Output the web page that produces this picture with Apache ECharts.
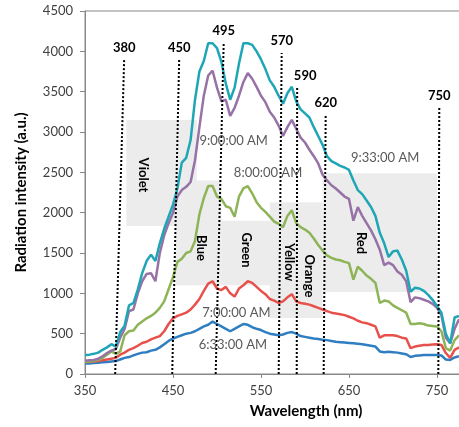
<!DOCTYPE html>
<html>
<head>
<meta charset="UTF-8">
<title>Radiation spectra</title>
<style>
  html, body { margin: 0; padding: 0; background: #fff; }
  #chart { width: 459px; height: 427px; }
</style>
</head>
<body>
<div id="chart"></div>
<script src="https://cdn.jsdelivr.net/npm/echarts@6/dist/echarts.min.js"></script>
<script>
// wavelength grid (nm)
var wavelengths = [
  350, 355, 360, 365, 370, 375, 380, 385, 390, 395,
  400, 405, 410, 415, 420, 425, 430, 435, 440, 445,
  450, 455, 460, 465, 470, 475, 480, 485, 490, 495,
  500, 505, 510, 515, 520, 525, 530, 535, 540, 545,
  550, 555, 560, 565, 570, 575, 580, 585, 590, 595,
  600, 605, 610, 615, 620, 625, 630, 635, 640, 645,
  650, 655, 660, 665, 670, 675, 680, 685, 690, 695,
  700, 705, 710, 715, 720, 725, 730, 735, 740, 745,
  750, 755, 760, 765, 770, 775
];

var am0633 = [
  130, 130, 135, 140, 145, 150, 155, 160, 180, 200,
  210, 230, 250, 265, 270, 290, 300, 330, 370, 410,
  440, 460, 480, 500, 510, 530, 560, 590, 610, 650,
  620, 590, 560, 530, 560, 590, 620, 610, 580, 560,
  545, 520, 500, 490, 480, 490, 510, 520, 500, 470,
  460, 450, 440, 435, 425, 420, 410, 400, 395, 390,
  385, 380, 375, 370, 360, 350, 340, 280, 270, 275,
  270, 265, 255, 245, 210, 225, 230, 235, 235, 235,
  235, 230, 180, 175, 205, 220
];

var am0700 = [
  150, 150, 155, 160, 170, 180, 190, 200, 240, 265,
  300, 320, 350, 385, 400, 430, 450, 470, 530, 620,
  690, 720, 740, 760, 800, 860, 930, 1030, 1120, 1150,
  1060, 1040, 1080, 1000, 960, 1060, 1100, 1150, 1130, 1080,
  1030, 990, 930, 910, 880, 900, 950, 990, 900, 880,
  870, 860, 840, 820, 800, 780, 760, 750, 740, 730,
  710, 690, 660, 640, 630, 610, 590, 450, 480, 480,
  480, 470, 450, 440, 320, 340, 350, 360, 360, 365,
  370, 360, 260, 200, 300, 330
];

var am0800 = [
  150, 155, 160, 175, 200, 240, 280, 250, 280, 480,
  530, 540, 610, 650, 690, 720, 760, 820, 900, 1050,
  1200, 1390, 1430, 1500, 1520, 1650, 1980, 2180, 2330, 2330,
  2200, 2170, 2080, 2060, 1950, 2200, 2300, 2330, 2240, 2130,
  2060, 2010, 1950, 1890, 1860, 1820, 1960, 2030, 1870, 1820,
  1790, 1750, 1680, 1600, 1530, 1470, 1440, 1420, 1410, 1390,
  1375, 1170, 1330, 1280, 1220, 1180, 1130, 880, 910, 900,
  850, 820, 790, 760, 620, 620, 630, 620, 600, 595,
  590, 530, 320, 290, 420, 480
];

var am0900 = [
  165, 170, 175, 190, 220, 260, 290, 310, 450, 560,
  780, 800, 1000, 1150, 1240, 1250, 1150, 1500, 1720, 1870,
  2000, 2200, 2280, 2320, 2380, 2650, 3060, 3450, 3700, 3760,
  3550, 3380, 3400, 3200, 3300, 3450, 3620, 3730, 3660, 3560,
  3450, 3370, 3250, 3180, 3080, 2950, 3060, 3150, 3040, 2930,
  2870, 2780, 2700, 2610, 2470, 2400, 2340, 2300, 2250, 2200,
  2170, 1900, 2070, 1960, 1870, 1780, 1670, 1540, 1350, 1380,
  1350, 1270, 1230, 1150, 890, 950, 940, 920, 900, 870,
  820, 730, 450, 380, 560, 680
];

var am0933 = [
  235, 240, 250, 265, 300, 330, 370, 340, 520, 600,
  850, 880, 1050, 1250, 1400, 1480, 1400, 1620, 1800, 1950,
  2100, 2300, 2620, 2680, 2900, 3400, 3750, 3880, 4100, 4100,
  4040, 3870, 3600, 3400, 3550, 3850, 4100, 4100, 4080, 4000,
  3900, 3780, 3640, 3560, 3450, 3350, 3480, 3560, 3380, 3280,
  3230, 3180, 3060, 2950, 2840, 2700, 2640, 2610, 2580, 2560,
  2530, 2400, 2280, 2230, 2150, 2070, 1960, 1750, 1620, 1450,
  1520, 1530, 1420, 1280, 1020, 1070, 1060, 1030, 980, 920,
  840, 760, 500, 380, 700, 720
];

var seriesNames = ['6:33:00 AM', '7:00:00 AM', '8:00:00 AM', '9:00:00 AM', '9:33:00 AM'];
var seriesValues = [am0633, am0700, am0800, am0900, am0933];
var seriesColors = ['#2f7ec1', '#e8514b', '#8db456', '#9672a6', '#1fa6b6'];

// where each time label sits (nm, intensity)
var timeLabelPos = [[518, 360], [522, 756], [558, 2492], [519, 2889], [691, 2678]];

// dotted band limits: label, [top nm, top value], bottom nm
var limitLabels = ['380', '450', '495', '570', '590', '620', '750'];
var limitTop = [[394.5, 3893], [457, 3893], [507.6, 4103], [573.5, 3980], [591.1, 3545], [623.5, 3211], [752.6, 3298]];
var limitBottom = [384.3, 449.1, 498.5, 570.1, 590.6, 621.2, 751.5];

// grey label boxes: [nm from, value top], [nm to, value bottom]
var boxStart = [[397, 3150], [453, 2400], [505, 1900], [560, 2130], [620, 2490]];
var boxEnd = [[477, 1835], [505, 1100], [573, 1100], [620, 695], [750, 1015]];

// colour names inside the boxes
var bandNames = ['Violet', 'Blue', 'Green', 'Yellow', 'Orange', 'Red'];
var bandNamePos = [[415.6, 2467], [481.5, 1562], [532.6, 1537], [581.5, 1388], [605.3, 1215], [663.3, 1624]];

var FONT = 'Lato, "Open Sans", sans-serif';

var chart = echarts.init(document.getElementById('chart'));

var series = [];

// boxes behind the curves
series.push({
  type: 'line',
  data: [],
  z: 1,
  silent: true,
  markArea: {
    silent: true,
    itemStyle: { color: '#ececec' },
    data: boxStart.map(function (s, i) {
      return [{ coord: s }, { coord: boxEnd[i] }];
    })
  }
});

seriesValues.forEach(function (vals, i) {
  series.push({
    name: seriesNames[i],
    type: 'line',
    z: 2,
    showSymbol: false,
    symbol: 'none',
    lineStyle: { width: 2.5, color: seriesColors[i] },
    itemStyle: { color: seriesColors[i] },
    data: wavelengths.map(function (w, k) { return [w, vals[k]]; })
  });
});

// dotted lines, band names and time labels on top
series.push({
  type: 'line',
  data: [],
  z: 5,
  silent: true,
  markLine: {
    silent: true,
    symbol: 'none',
    lineStyle: { type: 'dotted', color: '#000', width: 2 },
    label: {
      show: true,
      position: 'end',
      fontFamily: FONT,
      fontWeight: 'bold',
      fontSize: 13,
      color: '#000',
      distance: 6
    },
    data: limitLabels.map(function (txt, i) {
      var item = [
        { coord: [limitBottom[i], 0] },
        { coord: limitTop[i] }
      ];
      item[0].label = { formatter: txt };
      if (txt === '590') item[0].label.offset = [8, 0];
      return item;
    })
  },
  markPoint: {
    silent: true,
    symbol: 'circle',
    symbolSize: 0,
    data: bandNames.map(function (txt, i) {
      return {
        coord: bandNamePos[i],
        label: {
          show: true,
          position: 'inside',
          formatter: txt,
          rotate: -90,
          fontFamily: FONT,
          fontWeight: 'bold',
          fontSize: 13,
          color: '#000'
        }
      };
    }).concat(seriesNames.map(function (txt, i) {
      return {
        coord: timeLabelPos[i],
        label: {
          show: true,
          position: 'inside',
          formatter: txt,
          fontFamily: FONT,
          fontSize: 13,
          color: '#595959'
        }
      };
    }))
  }
});

function plain(v) { return String(v); }

var option = {
  animation: false,
  backgroundColor: '#fff',
  grid: {
    left: 85,
    top: 11,
    bottom: 53,
    right: -22,
    containLabel: false,
    outerBoundsMode: 'none',
    show: true,
    borderColor: '#888',
    borderWidth: 1,
    backgroundColor: 'transparent'
  },
  xAxis: {
    type: 'value',
    min: 350,
    max: 800,
    interval: 100,
    name: 'Wavelength (nm)',
    nameLocation: 'middle',
    nameGap: 30,
    nameTextStyle: {
      fontFamily: FONT,
      fontWeight: 'bold',
      fontSize: 15,
      color: '#000',
      padding: [0, 0, 0, 46]
    },
    axisLine: { lineStyle: { color: '#888', width: 1 } },
    axisTick: { show: true, length: 4, lineStyle: { color: '#888' } },
    axisLabel: { fontFamily: FONT, fontSize: 13, color: '#404040', margin: 10, formatter: plain },
    splitLine: { show: false }
  },
  yAxis: {
    type: 'value',
    min: 0,
    max: 4500,
    interval: 500,
    name: 'Radiation intensity (a.u.)',
    nameLocation: 'middle',
    nameGap: 56,
    nameTextStyle: {
      fontFamily: FONT,
      fontWeight: 'bold',
      fontSize: 15,
      color: '#000'
    },
    axisLine: { show: true, lineStyle: { color: '#888', width: 1 } },
    axisTick: { show: true, length: 5, lineStyle: { color: '#888' } },
    axisLabel: { fontFamily: FONT, fontSize: 13, color: '#404040', margin: 12, formatter: plain },
    splitLine: { show: false }
  },
  series: series
};

chart.setOption(option);
</script>
</body>
</html>
